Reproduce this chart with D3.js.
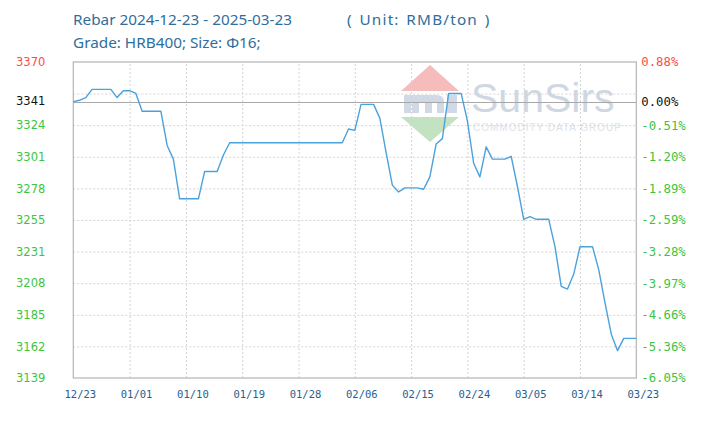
<!DOCTYPE html>
<html>
<head>
<meta charset="utf-8">
<script src="https://cdn.jsdelivr.net/npm/d3@7"></script>
<style>
  html, body { margin: 0; padding: 0; background: #fff; }
  svg { display: block; }
</style>
</head>
<body>
<svg id="chart" width="721" height="422"></svg>
<script>
// ---------- data ----------
const titleLine1 = "Rebar 2024-12-23 - 2025-03-23";
const titleUnit = "( Unit: RMB/ton )";
const titleLine2 = "Grade: HRB400; Size: \u03A616;";
const startDate = "2024-12-23";
const endDate = "2025-03-23";
// daily prices (RMB/ton), 2024-12-23 .. 2025-03-23
const prices = [
  3341, 3342, 3344, 3350, 3350, 3350, 3350, 3344, 3349, 3349,
  3347, 3334, 3334, 3334, 3334, 3309, 3299, 3270, 3270, 3270,
  3270, 3290, 3290, 3290, 3302, 3311, 3311, 3311, 3311, 3311,
  3311, 3311, 3311, 3311, 3311, 3311, 3311, 3311, 3311, 3311,
  3311, 3311, 3311, 3311, 3321, 3320, 3339, 3339, 3339, 3329,
  3304, 3280, 3275, 3278, 3278, 3278, 3277, 3286, 3310, 3314,
  3347, 3347, 3347, 3327, 3296, 3286, 3308, 3299, 3299, 3299,
  3301, 3279, 3255, 3257, 3255, 3255, 3255, 3235, 3206, 3204,
  3215, 3235, 3235, 3235, 3218, 3194, 3171, 3159, 3168, 3168,
  3168
];
const basePrice = 3341;
const yMin = 3139, yMax = 3370;
const yTickValues = [3370, 3346.9, 3323.8, 3300.7, 3277.6, 3254.5, 3231.4, 3208.3, 3185.2, 3162.1, 3139];
const leftLabels  = ["3370", "", "3324", "3301", "3278", "3255", "3231", "3208", "3185", "3162", "3139"];
const rightLabels = ["0.88%", "", "-0.51%", "-1.20%", "-1.89%", "-2.59%", "-3.28%", "-3.97%", "-4.66%", "-5.36%", "-6.05%"];
const baseLeftLabel = "3341";
const baseRightLabel = "0.00%";
const xTickLabels = ["12/23", "01/01", "01/10", "01/19", "01/28", "02/06", "02/15", "02/24", "03/05", "03/14", "03/23"];

// ---------- layout ----------
const svg = d3.select("#chart");
const L = 73.3, R = 636.3, T = 62, B = 378;
const parse = d3.timeParse("%Y-%m-%d");
const d0 = parse(startDate), d1 = parse(endDate);
const dates = prices.map((_, i) => d3.timeDay.offset(d0, i));
const data = prices.map((v, i) => ({ date: dates[i], v }));

const x = d3.scaleTime().domain([d0, d1]).range([L, R]);
const y = d3.scaleLinear().domain([yMin, yMax]).range([B, T]);
const xTicks = xTickLabels.map((_, i) => d3.timeDay.offset(d0, i * 9));

const blue = "#2f6e9c";

// ---------- watermark ----------
const wm = svg.append("g").attr("class", "watermark");
wm.append("path").attr("d", "M430,65 L459,91 L401,91 Z").attr("fill", "#f6bcbc");
wm.append("path").attr("d", "M401,117 L459,117 L430,142 Z").attr("fill", "#c2e2c2");
wm.append("path")
  .attr("d", "M404,113 V95 H436 Q444,95 444,101 V113 H437 V102 H432 V113 H425 V102 H419 V113 H412 V102 H411 V113 Z M447,113 V95 H457 V113 Z")
  .attr("fill", "#d2d9e6");
wm.append("text").attr("x", 471).attr("y", 112)
  .attr("font-family", "Arial, 'Liberation Sans', sans-serif").attr("font-size", 41)
  .attr("fill", "#cfd7e3").text("SunSirs");
wm.append("text").attr("x", 473).attr("y", 131)
  .attr("font-family", "Arial, 'Liberation Sans', sans-serif").attr("font-size", 10)
  .attr("fill", "#dde2ea").attr("letter-spacing", 1).text("COMMODITY DATA GROUP");

// ---------- grid ----------
const grid = svg.append("g");
grid.append("g")
  .attr("transform", `translate(0,${B})`)
  .call(d3.axisBottom(x).tickValues(xTicks.slice(1, -1)).tickSize(-(B - T)).tickFormat(""))
  .call(g => g.select(".domain").remove())
  .call(g => g.selectAll("line").attr("stroke", "#d4d4d4").attr("stroke-dasharray", "2,2"));
grid.append("g")
  .attr("transform", `translate(${L},0)`)
  .call(d3.axisLeft(y).tickValues(yTickValues.slice(1, -1)).tickSize(-(R - L)).tickFormat(""))
  .call(g => g.select(".domain").remove())
  .call(g => g.selectAll("line").attr("stroke", "#d4d4d4").attr("stroke-dasharray", "2,2"));

// base line
svg.append("line")
  .attr("x1", L).attr("x2", R).attr("y1", Math.round(y(basePrice)) + 0.5).attr("y2", Math.round(y(basePrice)) + 0.5)
  .attr("stroke", "#a8a8a8").attr("stroke-width", 1.2);

// frame
svg.append("rect")
  .attr("x", L).attr("y", T).attr("width", R - L).attr("height", B - T)
  .attr("fill", "none").attr("stroke", "#b4b4b4").attr("stroke-width", 1.2);

// ---------- line ----------
svg.append("path")
  .datum(data)
  .attr("fill", "none")
  .attr("stroke", "#4aa2dc")
  .attr("stroke-width", 1.4)
  .attr("stroke-linejoin", "round")
  .attr("d", d3.line().x(d => x(d.date)).y(d => y(d.v)));

// ---------- axes labels ----------
function labelColor(i) { return i === 0 ? "#ff4a4a" : "#3ec43e"; }

const leftAxis = svg.append("g")
  .attr("transform", `translate(${L},0)`)
  .call(d3.axisLeft(y).tickValues(yTickValues).tickSize(0).tickPadding(28)
    .tickFormat((d, i) => leftLabels[i]));
leftAxis.select(".domain").remove();
leftAxis.selectAll("text")
  .attr("font-family", "'DejaVu Sans', Verdana, sans-serif").attr("font-size", 11.5)
  .attr("fill", (d, i) => labelColor(i));

const rightAxis = svg.append("g")
  .attr("transform", `translate(${R},0)`)
  .call(d3.axisRight(y).tickValues(yTickValues).tickSize(0).tickPadding(5)
    .tickFormat((d, i) => rightLabels[i]));
rightAxis.select(".domain").remove();
rightAxis.selectAll("text")
  .attr("font-family", "'DejaVu Sans Mono', monospace").attr("font-size", 12.3)
  .attr("fill", (d, i) => labelColor(i));

// base labels
svg.append("text").attr("x", L - 28).attr("y", y(basePrice)).attr("dy", "0.32em")
  .attr("text-anchor", "end").attr("font-family", "'DejaVu Sans', Verdana, sans-serif")
  .attr("font-size", 11.5).attr("fill", "#111").text(baseLeftLabel);
svg.append("text").attr("x", R + 5).attr("y", y(basePrice)).attr("dy", "0.32em")
  .attr("font-family", "'DejaVu Sans Mono', monospace")
  .attr("font-size", 12.3).attr("fill", "#111").text(baseRightLabel);

// x axis labels
const xAxis = svg.append("g")
  .attr("transform", `translate(6.5,${B})`)
  .call(d3.axisBottom(x).tickValues(xTicks).tickSize(0).tickPadding(13)
    .tickFormat((d, i) => xTickLabels[i]));
xAxis.select(".domain").remove();
xAxis.selectAll("text")
  .attr("font-family", "'DejaVu Sans Mono', monospace").attr("font-size", 10.5)
  .attr("fill", "#26608e");

// ---------- titles ----------
const tfont = "'Noto Sans', 'Open Sans', sans-serif";
svg.append("text").attr("x", 73).attr("y", 25)
  .attr("font-family", tfont).attr("font-size", 15.3).attr("fill", blue).text(titleLine1);
svg.append("text").attr("x", 347).attr("y", 25)
  .attr("font-family", tfont).attr("font-size", 15.3).attr("fill", blue)
  .attr("letter-spacing", 1.2).attr("word-spacing", 1.5).text(titleUnit);
svg.append("text").attr("x", 73).attr("y", 48)
  .attr("font-family", tfont).attr("font-size", 15.3).attr("fill", blue).text(titleLine2);
</script>
</body>
</html>
